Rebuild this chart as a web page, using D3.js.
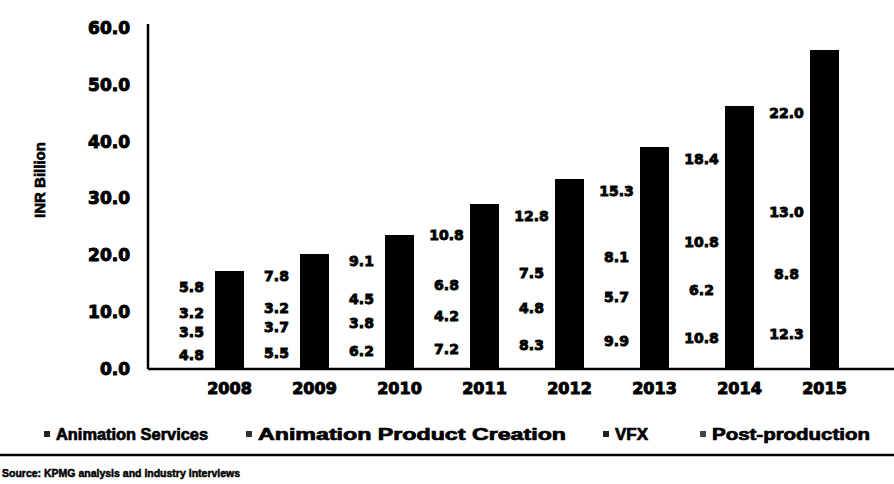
<!DOCTYPE html>
<html>
<head>
<meta charset="utf-8">
<script src="https://cdn.jsdelivr.net/npm/d3@7"></script>
<style>
  html, body { margin: 0; padding: 0; background: #fff; }
  svg { display: block; }
  .num { font-family: "DejaVu Sans", sans-serif; font-weight: bold; fill: #000; stroke: #000; }
  .txt { font-family: "Liberation Sans", Arial, sans-serif; font-weight: bold; fill: #000; }
</style>
</head>
<body>
<svg id="chart" width="894" height="484"></svg>
<script>
// INR billion by segment, 2008-2015
const years = ["2008", "2009", "2010", "2011", "2012", "2013", "2014", "2015"];
const seriesNames = ["Animation Services", "Animation Product Creation", "VFX", "Post-production"];
const animationServices = [4.8, 5.5, 6.2, 7.2, 8.3, 9.9, 10.8, 12.3];
const animationProduct  = [3.5, 3.7, 3.8, 4.2, 4.8, 5.7, 6.2, 8.8];
const vfx               = [3.2, 3.2, 4.5, 6.8, 7.5, 8.1, 10.8, 13.0];
const postProduction    = [5.8, 7.8, 9.1, 10.8, 12.8, 15.3, 18.4, 22.0];
const yTicks = [0, 10, 20, 30, 40, 50, 60];

const seriesValues = [animationServices, animationProduct, vfx, postProduction];
const seriesColors = ["#000", "#000", "#000", "#000"];
const legendColors = ["#222", "#333", "#222", "#444"];

const rows = years.map((y, i) => {
  const r = { year: y };
  seriesNames.forEach((s, k) => { r[s] = seriesValues[k][i]; });
  return r;
});
const stacked = d3.stack().keys(seriesNames)(rows);

const svg = d3.select("#chart");

const x = d3.scaleBand().domain(years).range([187, 867])
  .paddingInner(0.66).paddingOuter(0.33);
const y = d3.scaleLinear().domain([0, 60]).range([369, 28]);

// stacked columns
svg.append("g").attr("shape-rendering", "crispEdges")
  .selectAll("g").data(stacked).join("g")
  .attr("fill", (d, i) => seriesColors[i])
  .selectAll("rect").data(d => d).join("rect")
  .attr("x", d => x(d.data.year))
  .attr("width", x.bandwidth())
  .attr("y", d => y(d[1]))
  .attr("height", d => y(d[0]) - y(d[1]) + 0.5);

// segment value labels, set just left of each column
const labelShift = -38;
svg.append("g").selectAll("g").data(stacked).join("g")
  .selectAll("text").data(d => d).join("text")
  .attr("class", "num")
  .attr("stroke-width", 0.9)
  .attr("font-size", 14)
  .attr("text-anchor", "middle")
  .attr("dominant-baseline", "central")
  .attr("x", d => x(d.data.year) + x.bandwidth() / 2 + labelShift)
  .attr("y", d => y((d[0] + d[1]) / 2))
  .text(d => (d[1] - d[0]).toFixed(1));

// y axis
const yAxis = svg.append("g").attr("transform", "translate(148,0)")
  .call(d3.axisLeft(y).tickValues(yTicks).tickSize(0).tickPadding(18).tickFormat(d3.format(".1f")));
yAxis.select(".domain").attr("stroke", "#000").attr("stroke-width", 2.5)
  .attr("d", "M0," + (y(60) - 4) + "V" + y(0));
yAxis.selectAll("text").attr("class", "num").attr("font-size", 17)
  .attr("stroke-width", 1).attr("fill", "#000");

// x axis
const xAxis = svg.append("g").attr("transform", "translate(0," + y(0) + ")")
  .call(d3.axisBottom(x).tickSize(0).tickPadding(14));
xAxis.select(".domain").attr("stroke", "#000").attr("stroke-width", 2.5)
  .attr("d", "M148,0H894");
xAxis.selectAll("text").attr("class", "num").attr("font-size", 16)
  .attr("stroke-width", 1).attr("fill", "#000");

// axis title
svg.append("text").attr("class", "txt")
  .attr("transform", "translate(45,180) rotate(-90)")
  .attr("text-anchor", "middle")
  .attr("font-size", 15)
  .attr("stroke", "#000").attr("stroke-width", 0.7)
  .text("INR Billion");

// legend
const legendX = [47, 249, 606, 703];
const legendLen = [152, 308, 33, 158];
const legend = svg.append("g").selectAll("g").data(seriesNames).join("g")
  .attr("transform", (d, i) => "translate(" + legendX[i] + ",434)");
legend.append("rect").attr("x", -3).attr("y", -3).attr("width", 6).attr("height", 6)
  .attr("fill", (d, i) => legendColors[i]);
legend.append("text").attr("class", "txt")
  .attr("x", 9).attr("dominant-baseline", "central")
  .attr("font-size", 16).attr("stroke", "#000").attr("stroke-width", 0.7)
  .attr("textLength", (d, i) => legendLen[i])
  .attr("lengthAdjust", "spacingAndGlyphs")
  .text(d => d);

// rule and source note
svg.append("line").attr("x1", 0).attr("x2", 894).attr("y1", 455).attr("y2", 455)
  .attr("stroke", "#000").attr("stroke-width", 2.5);
svg.append("text").attr("class", "txt")
  .attr("x", 2).attr("y", 473).attr("dominant-baseline", "central")
  .attr("font-size", 10.5).attr("stroke", "#000").attr("stroke-width", 0.5)
  .text("Source: KPMG analysis and industry interviews");
</script>
</body>
</html>
